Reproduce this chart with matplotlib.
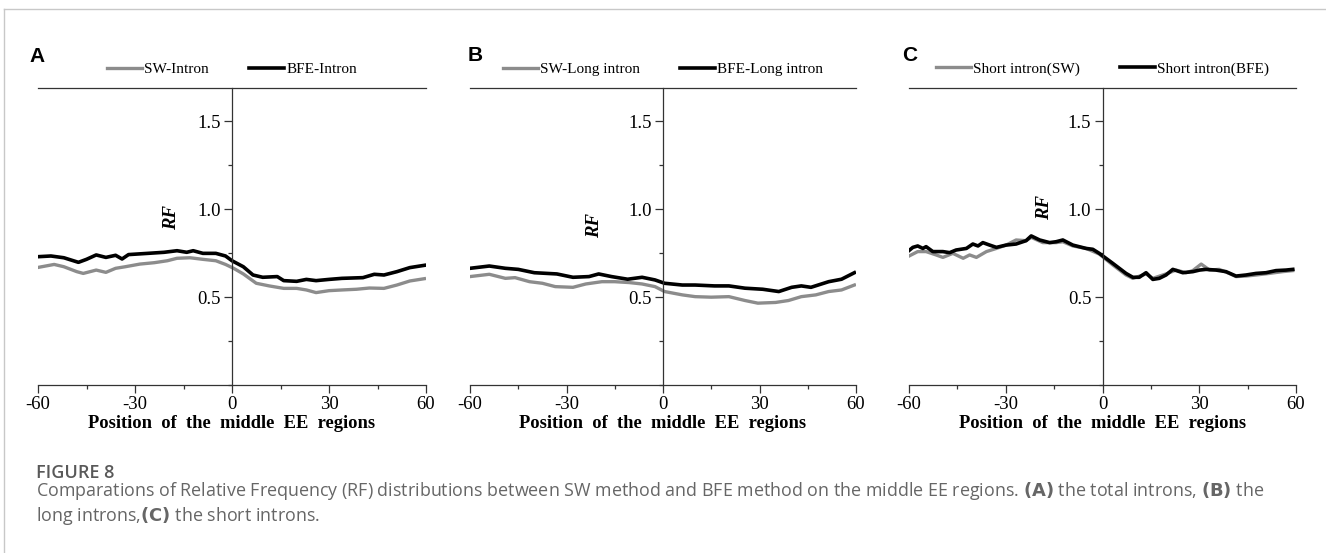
import numpy as np
import matplotlib
matplotlib.use('Agg')
from matplotlib import pyplot as plt
from matplotlib.lines import Line2D
from matplotlib.ticker import MultipleLocator

matplotlib.rcParams['font.family'] = ['Liberation Serif', 'DejaVu Serif']

# ---------------- data ----------------
a_bfe_x = [-60, -56, -52, -47.5, -45, -42, -39, -36, -34, -32, -26, -21, -17, -14, -12, -9, -5, -2, 0,
           3.5, 6.5, 9.5, 14, 16, 20, 23, 26, 30, 34, 40.5, 44, 47, 51, 55, 59.5]
a_bfe_y = [0.729, 0.733, 0.723, 0.697, 0.714, 0.739, 0.725, 0.737, 0.716, 0.741, 0.748, 0.754, 0.763,
           0.754, 0.763, 0.748, 0.748, 0.733, 0.706, 0.672, 0.625, 0.612, 0.616, 0.593, 0.589, 0.600,
           0.593, 0.600, 0.606, 0.610, 0.629, 0.625, 0.644, 0.667, 0.680]
a_sw_x = [-60, -55, -52, -48, -46, -42, -39, -36, -33, -28.5, -24, -20, -17, -13, -9, -5, -2, 0.5, 3.5,
          7.5, 11.5, 16, 20, 23, 26, 30, 34, 38.5, 42.5, 47, 51, 55, 59.5]
a_sw_y = [0.668, 0.685, 0.672, 0.644, 0.634, 0.653, 0.640, 0.663, 0.672, 0.687, 0.695, 0.706, 0.720,
          0.723, 0.714, 0.706, 0.685, 0.663, 0.631, 0.578, 0.563, 0.549, 0.549, 0.540, 0.525, 0.536,
          0.540, 0.544, 0.551, 0.549, 0.568, 0.591, 0.604]

b_bfe_x = [-60, -54, -49, -45, -40, -33, -28, -23, -20, -16, -11, -6.5, -2.5, 0.5, 6, 10, 16, 20.5,
           25.5, 31, 36, 40, 43, 46, 51.5, 55.5, 59.5]
b_bfe_y = [0.663, 0.676, 0.663, 0.657, 0.638, 0.631, 0.612, 0.616, 0.631, 0.616, 0.601, 0.612, 0.597,
           0.578, 0.568, 0.568, 0.563, 0.563, 0.550, 0.544, 0.531, 0.555, 0.563, 0.555, 0.587, 0.601, 0.638]
b_sw_x = [-60, -54, -49, -46, -41.5, -37.5, -33.5, -28, -24, -19, -15, -10.5, -6.5, -2.5, 0.5, 6, 10,
          15, 20.5, 25.5, 29.5, 35, 39, 43, 47.5, 51.5, 55.5, 59.5]
b_sw_y = [0.616, 0.629, 0.606, 0.610, 0.587, 0.578, 0.559, 0.555, 0.574, 0.587, 0.587, 0.582, 0.574,
          0.559, 0.531, 0.512, 0.502, 0.499, 0.502, 0.480, 0.465, 0.469, 0.480, 0.502, 0.512, 0.531,
          0.540, 0.568]

c_bfe_x = [-60.4, -58.8, -57.3, -55.7, -54.7, -52.6, -49.5, -47.4, -45.4, -42.2, -40.2, -38.6, -37.1,
           -35.0, -32.9, -29.9, -26.8, -23.7, -22.1, -19.5, -16.4, -14.4, -12.3, -9.2, -5.1, -3.0, -1.0,
           3.2, 7.3, 9.4, 11.4, 13.5, 15.6, 17.6, 19.7, 21.8, 24.9, 28.0, 30.1, 32.1, 35.2, 38.3, 41.4,
           44.5, 47.6, 50.7, 53.8, 56.9, 59.0]
c_bfe_y = [0.758, 0.782, 0.790, 0.776, 0.786, 0.758, 0.758, 0.752, 0.767, 0.776, 0.801, 0.790, 0.809,
           0.795, 0.782, 0.795, 0.801, 0.820, 0.847, 0.824, 0.809, 0.814, 0.824, 0.795, 0.776, 0.771,
           0.748, 0.691, 0.634, 0.612, 0.612, 0.638, 0.600, 0.606, 0.625, 0.657, 0.638, 0.644, 0.653,
           0.657, 0.653, 0.644, 0.619, 0.625, 0.634, 0.638, 0.650, 0.653, 0.657]
c_sw_x = [-60.4, -57.3, -54.7, -51.6, -49.5, -46.4, -43.2, -41.2, -39.1, -36.0, -32.9, -29.9, -26.8,
          -23.7, -22.1, -18.5, -14.4, -12.3, -9.2, -5.1, -1.0, 3.2, 7.3, 9.4, 13.5, 15.6, 19.7, 22.8,
          25.9, 28.0, 30.6, 33.2, 36.2, 39.3, 41.4, 44.5, 47.6, 51.7, 55.8, 59.0]
c_sw_y = [0.729, 0.758, 0.758, 0.739, 0.725, 0.748, 0.720, 0.739, 0.725, 0.758, 0.776, 0.795, 0.824,
          0.820, 0.839, 0.809, 0.809, 0.814, 0.790, 0.776, 0.744, 0.682, 0.625, 0.606, 0.631, 0.606,
          0.631, 0.653, 0.638, 0.650, 0.687, 0.653, 0.657, 0.634, 0.616, 0.619, 0.625, 0.634, 0.644, 0.650]

panels = ['A', 'B', 'C']
sw_labels = ['SW-Intron', 'SW-Long intron', 'Short intron(SW)']
bfe_labels = ['BFE-Intron', 'BFE-Long intron', 'Short intron(BFE)']
sw_data = [(a_sw_x, a_sw_y), (b_sw_x, b_sw_y), (c_sw_x, c_sw_y)]
bfe_data = [(a_bfe_x, a_bfe_y), (b_bfe_x, b_bfe_y), (c_bfe_x, c_bfe_y)]
x_ticks = [-60, -30, 0, 30, 60]
y_ticks = [0.5, 1.0, 1.5]

# ---------------- layout (pixels of the 1326x553 canvas) ----------------
W, H = 1326, 553
ax_left = [38, 470, 909]
ax_width = [388, 386, 387]
ax_top, ax_bottom = 88, 385
rf_pos = [(172, 218), (595, 226), (1045, 207)]
letter_pos = [(29, 56), (468, 55), (902, 55)]

fig = plt.figure(figsize=(W / 100, H / 100), dpi=100)

for i in range(3):
    ax = fig.add_axes([ax_left[i] / W, 1 - ax_bottom / H, ax_width[i] / W, (ax_bottom - ax_top) / H])
    sx, sy = sw_data[i]
    bx, by = bfe_data[i]
    ax.plot(sx, sy, color='#8c8c8c', lw=2.4, label=sw_labels[i], solid_joinstyle='round')
    ax.plot(bx, by, color='black', lw=2.6, label=bfe_labels[i], solid_joinstyle='round')

    ax.set_xlim(-60, 60)
    ax.set_ylim(0, 1.6875)
    ax.spines['right'].set_visible(False)
    ax.spines['left'].set_position(('data', 0))
    for s in ['left', 'bottom', 'top']:
        ax.spines[s].set_color('#333333')
        ax.spines[s].set_linewidth(0.9)

    ax.set_xticks(x_ticks)
    ax.set_xticklabels([str(t) for t in x_ticks])
    ax.xaxis.set_minor_locator(MultipleLocator(15))
    ax.set_yticks(y_ticks)
    ax.set_yticklabels(['%.1f' % t for t in y_ticks])
    ax.yaxis.set_minor_locator(MultipleLocator(0.25))
    ax.tick_params(which='major', length=6, width=0.9, color='#333333', labelsize=13.5, pad=2)
    ax.tick_params(which='minor', length=3, width=0.9, color='#333333')
    ax.tick_params(axis='y', which='both', right=False)
    ax.tick_params(axis='x', which='both', top=False)

    ax.set_xlabel('Position  of  the  middle  EE  regions', fontsize=13.3,
                  fontweight='bold', labelpad=1)

    ax.legend(loc='center', bbox_to_anchor=(0.5, 1 + 19 / (ax_bottom - ax_top)), ncol=2,
              frameon=False, fontsize=11, handlelength=2.3, handletextpad=0.15,
              columnspacing=2.6, borderaxespad=0)

    fig.text(rf_pos[i][0] / W, 1 - rf_pos[i][1] / H, 'RF', rotation=90, fontsize=13.5,
             fontweight='bold', fontstyle='italic', ha='center', va='center')
    fig.text(letter_pos[i][0] / W, 1 - letter_pos[i][1] / H, panels[i], fontsize=15,
             fontweight='bold', family='Liberation Sans', ha='left', va='center')

# page frame
fig.add_artist(Line2D([4 / W, 1], [1 - 9 / H, 1 - 9 / H], transform=fig.transFigure,
                      color='#c8c8c8', lw=1))
fig.add_artist(Line2D([4 / W, 4 / W], [0, 1 - 9 / H], transform=fig.transFigure,
                      color='#c8c8c8', lw=1))

# caption
cap = ['Open Sans', 'DejaVu Sans']
fig.text(36 / W, 1 - 478 / H, 'FIGURE 8', fontsize=13, family=cap, fontweight='semibold',
         color='#595959', ha='left', va='baseline')
line1 = ('Comparations of Relative Frequency (RF) distributions between SW method and BFE method on '
         'the middle EE regions. $\\bf{(A)}$ the total introns, $\\bf{(B)}$ the')
fig.text(36 / W, 1 - 496 / H, line1, fontsize=12.9, family=cap, color='#666666',
         ha='left', va='baseline')
fig.text(36 / W, 1 - 521 / H, 'long introns,$\\bf{(C)}$ the short introns.', fontsize=12.9,
         family=cap, color='#666666', ha='left', va='baseline')

fig.savefig('out.png', dpi=100)
